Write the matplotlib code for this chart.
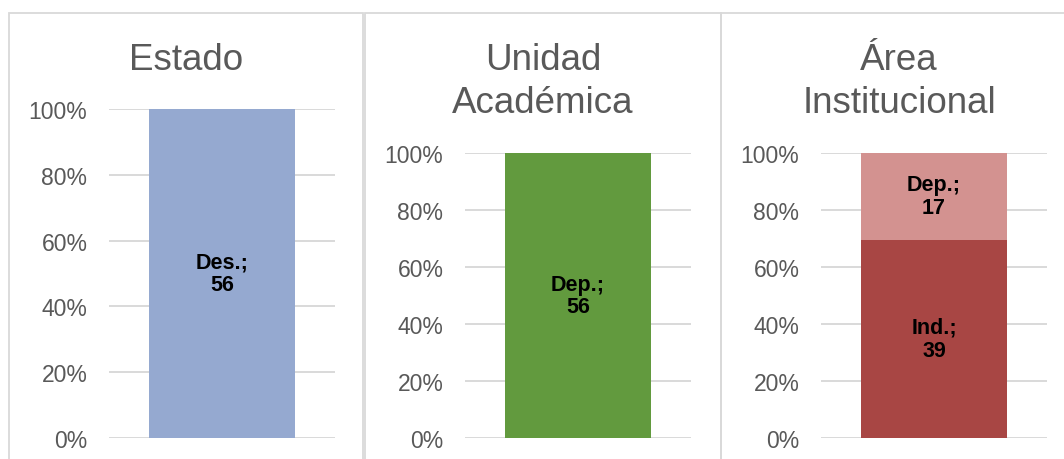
import matplotlib
matplotlib.use("Agg")
import matplotlib.pyplot as plt
from matplotlib.patches import Rectangle

plt.rcParams['font.family'] = ['Liberation Sans', 'DejaVu Sans']

titles = ["Estado", "Unidad\nAcadémica", "Área\nInstitucional"]
categories = ["Estado", "Unidad Académica", "Área Institucional"]
# stacked segments per panel: (label, count, color)
panel_labels = [["Des."], ["Dep."], ["Ind.", "Dep."]]
panel_values = [[56], [56], [39, 17]]
panel_colors = [["#95A9D0"], ["#629A3E"], ["#A84644", "#D39290"]]
yticks = [0, 20, 40, 60, 80, 100]
ytick_labels = ["0%", "20%", "40%", "60%", "80%", "100%"]

W, H = 1064, 460
fig = plt.figure(figsize=(W / 100, H / 100), dpi=100)

# pixel layout
panels_px = [(9, 363), (365, 721), (721, 1078)]
axes_px = [(109, 335, 110, 439), (465, 691, 154, 439), (821, 1047, 154, 439)]
title_cx = [186, 543, 899]
title_base = 70

GRID = "#D9D9D9"
TXT = "#595959"

for i in range(3):
    l, r = panels_px[i]
    fig.add_artist(Rectangle((l / W, -0.2), (r - l) / W, (H - 14) / H + 0.2,
                             transform=fig.transFigure, fill=False,
                             edgecolor=GRID, linewidth=1.3))
    ax_l, ax_r, ax_t, ax_b = axes_px[i]
    ax = fig.add_axes([ax_l / W, (H - ax_b) / H, (ax_r - ax_l) / W, (ax_b - ax_t) / H])
    ax.set_facecolor("none")
    total = sum(panel_values[i])
    bottom = 0
    for lab, v, c in zip(panel_labels[i], panel_values[i], panel_colors[i]):
        pct = v / total * 100
        ax.bar(0, pct, bottom=bottom, width=0.65, color=c, zorder=3)
        ax.text(0, bottom + pct / 2, f"{lab};\n{v}", ha="center", va="center",
                fontsize=15.5, fontweight="bold", color="black", zorder=4,
                linespacing=1.12)
        bottom += pct
    ax.set_xlim(-0.5, 0.5)
    ax.set_ylim(0, 100)
    ax.set_yticks(yticks)
    ax.set_yticklabels(ytick_labels)
    ax.set_xticks([])
    ax.tick_params(axis="y", length=0, pad=15.5, labelsize=16.5, labelcolor=TXT)
    ax.yaxis.grid(True, color=GRID, linewidth=1.4, zorder=0)
    ax.set_axisbelow(True)
    for s in ax.spines.values():
        s.set_visible(False)
    lines = titles[i].split("\n")
    for j, line in enumerate(lines):
        fig.text(title_cx[i] / W, 1 - (title_base + 43 * j) / H, line,
                 ha="center", va="baseline", fontsize=26.5, color=TXT)

fig.savefig("out.png", dpi=100)
